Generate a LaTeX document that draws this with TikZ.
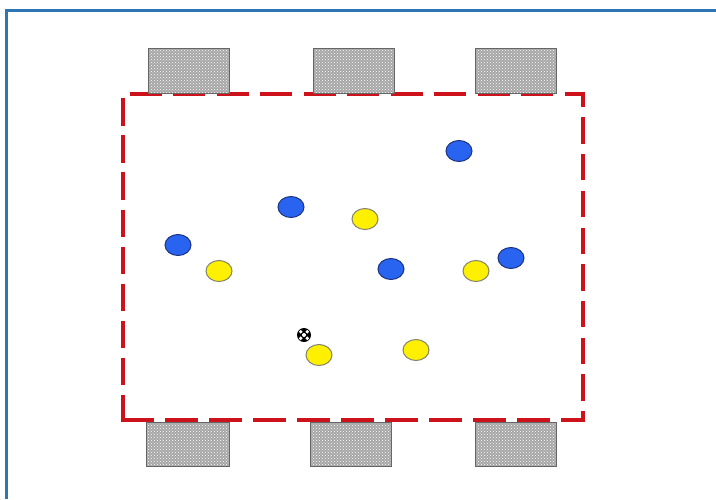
\documentclass[tikz,border=0pt]{standalone}
\usetikzlibrary{patterns,shapes.geometric}
\definecolor{frameblue}{RGB}{46,117,182}
\definecolor{fieldred}{RGB}{205,18,28}
\definecolor{pblue}{RGB}{40,100,240}
\definecolor{pblueedge}{RGB}{30,50,130}
\definecolor{pyellow}{RGB}{255,240,0}
\definecolor{pyellowedge}{RGB}{130,130,110}
\begin{document}
\begin{tikzpicture}[x=1pt,y=-1pt,
  goalbox/.style={draw=black!60,line width=0.9pt,preaction={fill=gray!70},pattern=crosshatch dots,pattern color=white,minimum width=81pt,minimum height=45pt,inner sep=0pt},
  blueplayer/.style={ellipse,draw=pblueedge,line width=1pt,fill=pblue,minimum width=26pt,minimum height=21pt,inner sep=0pt},
  yellowplayer/.style={ellipse,draw=pyellowedge,line width=1pt,fill=pyellow,minimum width=26pt,minimum height=21pt,inner sep=0pt},
  fieldline/.style={draw=fieldred,line width=3.5pt},
  frameline/.style={draw=frameblue,line width=3pt}
]
\useasboundingbox (0,0) rectangle (716,499);
\fill[white] (0,0) rectangle (716,499);
% blue frame
\draw[frameline] (6.5,499) -- (6.5,10.5) -- (716,10.5);
% field corners
\coordinate (tl) at (123,94);
\coordinate (tr) at (583,94);
\coordinate (br) at (583,420);
\coordinate (bl) at (123,420);
% field sides
\draw[fieldline,dash pattern=on 32pt off 11.5pt,dash phase=35.25pt] ([xshift=-1.75pt]tl) -- ([xshift=1.75pt]tr);
\draw[fieldline,dash pattern=on 26.3pt off 10.4pt,dash phase=11.55pt] ([yshift=1.75pt]tr) -- ([yshift=-1.75pt]br);
\draw[fieldline,dash pattern=on 33pt off 11pt,dash phase=0pt] ([xshift=-1.75pt]bl) -- ([xshift=1.75pt]br);
\draw[fieldline,dash pattern=on 27.4pt off 9.7pt,dash phase=0.65pt] ([yshift=-1.75pt]bl) -- ([yshift=1.75pt]tl);
% goals
\node[goalbox] (gt1) at (188.5,70.5) {};
\node[goalbox] (gt2) at (353.5,70.5) {};
\node[goalbox] (gt3) at (515.5,70.5) {};
\node[goalbox,minimum width=83pt,minimum height=44pt] (gb1) at (187.5,444) {};
\node[goalbox,minimum height=44pt] (gb2) at (350.5,444) {};
\node[goalbox,minimum height=44pt] (gb3) at (515.5,444) {};
% blue players
\node[blueplayer] (b1) at (459,151) {};
\node[blueplayer] (b2) at (291,207) {};
\node[blueplayer] (b3) at (178,245) {};
\node[blueplayer] (b4) at (391,269) {};
\node[blueplayer] (b5) at (511,258) {};
% yellow players
\node[yellowplayer] (y1) at (365,219) {};
\node[yellowplayer] (y2) at (219,271) {};
\node[yellowplayer] (y3) at (476,271) {};
\node[yellowplayer] (y4) at (319,355) {};
\node[yellowplayer] (y5) at (416,350) {};
% ball
\node[circle,fill=black,minimum size=14pt,inner sep=0pt] (ball) at (304,335) {};
\fill[white] (ball.center) circle (2pt);
\fill[white] ([shift={(-3.3pt,-3.3pt)}]ball.center) circle (1.9pt);
\fill[white] ([shift={(3.3pt,-3.3pt)}]ball.center) circle (1.9pt);
\fill[white] ([shift={(-3.3pt,3.3pt)}]ball.center) circle (1.9pt);
\fill[white] ([shift={(3.3pt,3.3pt)}]ball.center) circle (1.9pt);
\end{tikzpicture}
\end{document}
